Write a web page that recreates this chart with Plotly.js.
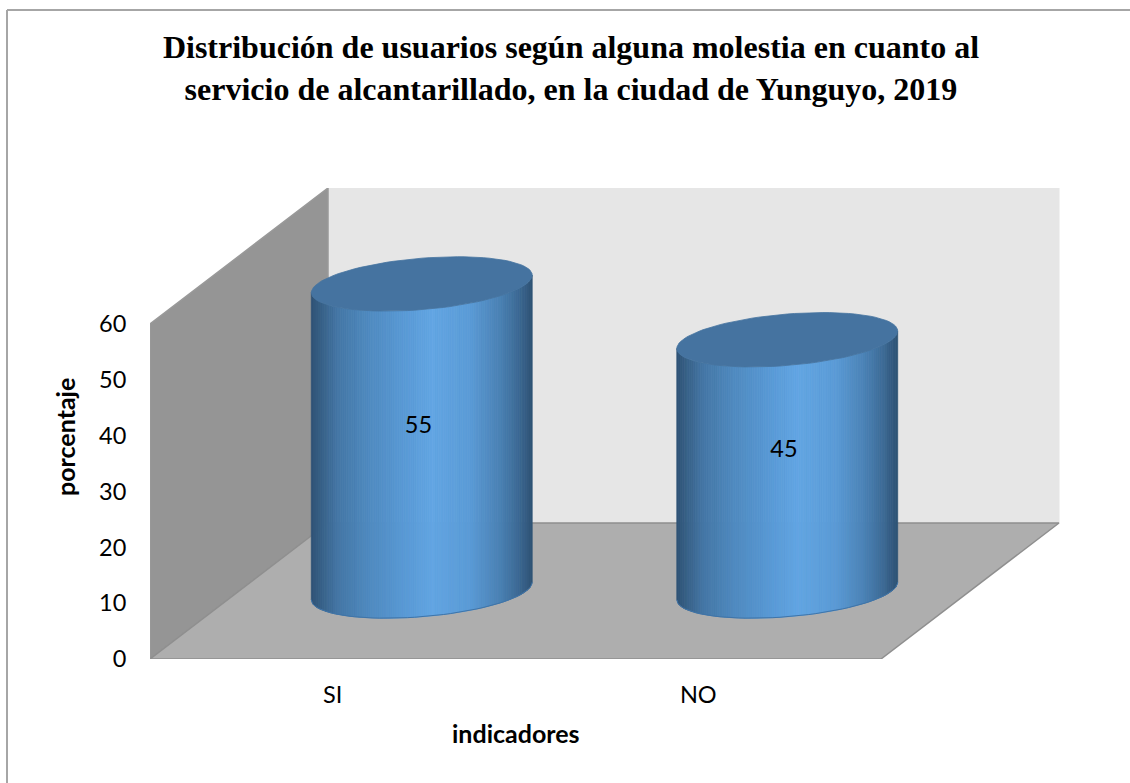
<!DOCTYPE html>
<html>
<head>
<meta charset="utf-8">
<script src="https://cdn.plot.ly/plotly-3.0.1.min.js"></script>
<style>html,body{margin:0;padding:0;background:#fff;overflow:hidden}#chart{width:1130px;height:783px}</style>
</head>
<body>
<div id="chart"></div>
<script>
// Chart data
var categories = ['SI', 'NO'];
var values = [55, 45];
var labelHeights = [41.6, 37.3];
var valueTicks = [0, 10, 20, 30, 40, 50, 60];
var titleText = '<b>Distribución de usuarios según alguna molestia en cuanto al<br>servicio de alcantarillado, en la ciudad de Yunguyo, 2019</b>';
var xTitle = 'indicadores';
var yTitle = 'porcentaje';

// Oblique 3D projection, expressed in axis units: depth 0 = front, depth 1 = back
var valueMax = 60;
var depthX = 0.487;
var depthY = 24.36;
var radiusX = 0.286;
var radiusDepth = 0.2;
var gradient = [
  [0.00, [46, 82, 116]], [0.05, [56, 98, 137]], [0.12, [68, 118, 165]], [0.25, [78, 137, 190]],
  [0.42, [88, 153, 213]], [0.55, [98, 165, 227]], [0.72, [90, 155, 214]], [0.85, [74, 130, 182]],
  [0.94, [60, 105, 148]], [1.00, [46, 82, 116]]
];
var capColor = '#4573a0';

function proj(x, v, d) { return [x + depthX * d, v + depthY * d]; }
function poly(points, fill, lineColor, lineWidth) {
  return {
    type: 'scatter', mode: 'lines', fill: 'toself', fillcolor: fill,
    x: points.map(function (p) { return p[0]; }), y: points.map(function (p) { return p[1]; }),
    line: { color: lineColor || fill, width: lineWidth === undefined ? 1 : lineWidth },
    hoverinfo: 'skip', showlegend: false
  };
}
function colorAt(f) {
  for (var i = 1; i < gradient.length; i++) {
    if (f <= gradient[i][0]) {
      var a = gradient[i - 1], b = gradient[i], k = (f - a[0]) / (b[0] - a[0]);
      return 'rgb(' + [0, 1, 2].map(function (c) { return Math.round(a[1][c] + (b[1][c] - a[1][c]) * k); }).join(',') + ')';
    }
  }
  return 'rgb(46,82,116)';
}
function ellipsePoint(cx, v, t) {
  return proj(cx + radiusX * Math.cos(t), v, 0.5 + radiusDepth * Math.sin(t));
}

var nCat = categories.length;
var traces = [];
// walls and floor
traces.push(poly([proj(0, 0, 1), proj(nCat, 0, 1), proj(nCat, valueMax, 1), proj(0, valueMax, 1)], '#e6e6e6', '#e6e6e6', 1));
traces.push(poly([proj(0, 0, 0), proj(0, 0, 1), proj(0, valueMax, 1), proj(0, valueMax, 0), proj(0, 0, 0)], '#959595', '#999999', 1.5));
traces.push(poly([proj(0, 0, 0), proj(nCat, 0, 0), proj(nCat, 0, 1), proj(0, 0, 1), proj(0, 0, 0)], '#aeaeae', '#8f8f8f', 1.5));

// cylinders
var t0 = Math.atan2(radiusDepth * depthX * 365.5, radiusX * 365.5);
var steps = 120;
values.forEach(function (val, i) {
  var cx = i + 0.5;
  for (var s = 0; s < steps; s++) {
    var u1 = -1 + 2 * s / steps, u2 = -1 + 2 * (s + 1) / steps;
    var a1 = t0 - Math.acos(u1), a2 = t0 - Math.acos(u2);
    var col = colorAt((s + 0.5) / steps);
    traces.push(poly([ellipsePoint(cx, 0, a1), ellipsePoint(cx, 0, a2), ellipsePoint(cx, val, a2), ellipsePoint(cx, val, a1), ellipsePoint(cx, 0, a1)], col, col, 0.8));
  }
  var cap = [], edge = [];
  for (var k = 0; k <= 96; k++) {
    cap.push(ellipsePoint(cx, val, 2 * Math.PI * k / 96));
    if (k <= 48) edge.push(ellipsePoint(cx, 0, t0 - Math.PI + Math.PI * k / 48));
  }
  traces.push(poly(cap, capColor, capColor, 0.8));
  traces.push({
    type: 'scatter', mode: 'lines', x: edge.map(function (p) { return p[0]; }), y: edge.map(function (p) { return p[1]; }),
    line: { color: '#3f74a8', width: 1 }, hoverinfo: 'skip', showlegend: false
  });
});

// data labels
traces.push({
  type: 'scatter', mode: 'text',
  x: values.map(function (v, i) { return i + 0.5 + depthX * 0.5 - 0.009; }),
  y: labelHeights,
  text: values.map(String), textposition: 'middle center',
  textfont: { family: 'Lato, Carlito, sans-serif', size: 23.5, color: '#000' },
  hoverinfo: 'skip', showlegend: false
});

var font = 'Lato, Carlito, sans-serif';
var xSpan = 910 / 365.5;
var layout = {
  width: 1130, height: 783,
  margin: { l: 150, r: 70, t: 188, b: 124, pad: 0 },
  paper_bgcolor: '#fff', plot_bgcolor: 'rgba(0,0,0,0)',
  showlegend: false,
  title: {
    text: titleText, font: { family: '"Liberation Serif", serif', size: 32, color: '#000' },
    xref: 'paper', x: 0.4626, xanchor: 'center', yref: 'container', y: 0.9257, yanchor: 'top'
  },
  xaxis: {
    range: [0, xSpan], tickmode: 'array', tickvals: categories.map(function (c, i) { return i + 0.5; }), ticktext: categories,
    showgrid: false, zeroline: false, showline: false, ticks: 'outside', ticklen: 15, tickcolor: 'rgba(0,0,0,0)',
    tickfont: { family: font, size: 23.5, color: '#000' }, fixedrange: true
  },
  yaxis: {
    range: [0, valueMax + depthY], tickmode: 'array', tickvals: valueTicks,
    showgrid: false, zeroline: false, showline: false, ticks: 'outside', ticklen: 18, tickcolor: 'rgba(0,0,0,0)',
    tickfont: { family: font, size: 23.5, color: '#000' }, fixedrange: true
  },
  annotations: [
    { text: '<b>' + xTitle + '</b>', xref: 'paper', yref: 'paper', x: (516 - 150) / 910, y: (659 - 733) / 471, showarrow: false, xanchor: 'center', yanchor: 'middle', font: { family: font, size: 25, color: '#000' } },
    { text: '<b>' + yTitle + '</b>', xref: 'paper', yref: 'paper', x: (65 - 150) / 910, y: (659 - 437) / 471, textangle: -90, showarrow: false, xanchor: 'center', yanchor: 'middle', font: { family: font, size: 25, color: '#000' } }
  ],
  shapes: [
    { type: 'line', xref: 'paper', yref: 'paper', x0: (7 - 150) / 910, x1: (7 - 150) / 910, y0: (659 - 783) / 471, y1: (659 - 10) / 471, line: { color: '#a6a6a6', width: 2 } },
    { type: 'line', xref: 'paper', yref: 'paper', x0: (7 - 150) / 910, x1: (1130 - 150) / 910, y0: (659 - 10) / 471, y1: (659 - 10) / 471, line: { color: '#a6a6a6', width: 2 } }
  ]
};
Plotly.newPlot('chart', traces, layout, { displayModeBar: false, staticPlot: true });
</script>
</body>
</html>
